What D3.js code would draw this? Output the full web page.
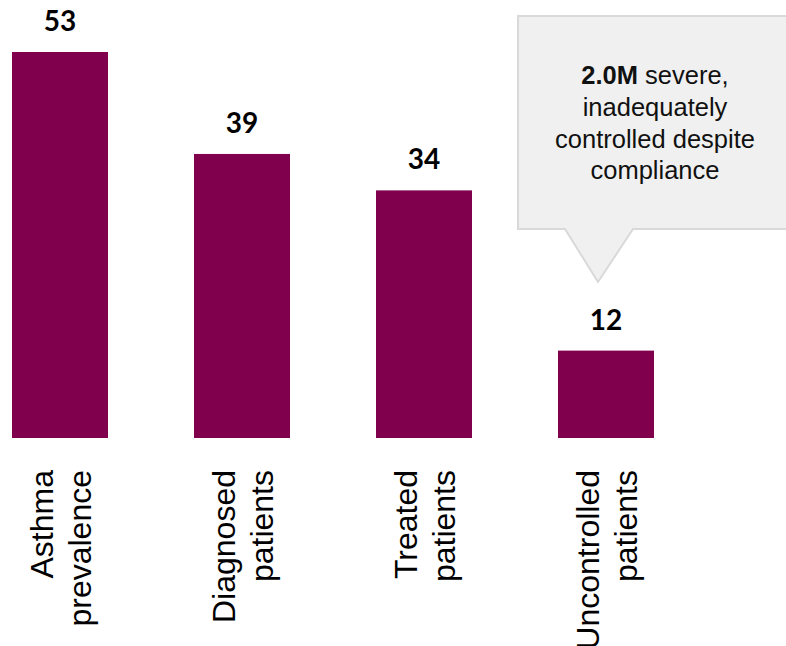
<!DOCTYPE html>
<html>
<head>
<meta charset="utf-8">
<script src="https://cdn.jsdelivr.net/npm/d3@7"></script>
<style>
  html, body { margin: 0; padding: 0; background: #fff; }
  svg { display: block; }
</style>
</head>
<body>
<svg id="chart" width="786" height="646"></svg>
<script>
const categories = [["Asthma", "prevalence"], ["Diagnosed", "patients"], ["Treated", "patients"], ["Uncontrolled", "patients"]];
const values = [53, 39, 34, 12];
const valueLabels = ["53", "39", "34", "12"];
const calloutBold = "2.0M";
const calloutLines = [" severe,", "inadequately", "controlled despite", "compliance"];

const svg = d3.select("#chart");
const W = 786, H = 646;
const barColor = "#80004d";

const x = d3.scaleBand()
  .domain(d3.range(values.length))
  .range([12, 654])
  .paddingInner(0.4725)
  .paddingOuter(0);

const y = d3.scaleLinear()
  .domain([0, d3.max(values)])
  .range([438, 52]);

// Bars
svg.append("g").selectAll("rect")
  .data(values)
  .join("rect")
  .attr("x", (d, i) => x(i))
  .attr("y", d => y(d))
  .attr("width", x.bandwidth())
  .attr("height", d => y(0) - y(d))
  .attr("fill", barColor);

// Value labels
svg.append("g").selectAll("text")
  .data(values)
  .join("text")
  .attr("x", (d, i) => x(i) + x.bandwidth() / 2)
  .attr("y", d => y(d) - 21)
  .attr("text-anchor", "middle")
  .attr("font-family", "Lato, 'Open Sans', sans-serif")
  .attr("font-weight", "bold")
  .attr("font-size", 28)
  .attr("fill", "#000")
  .text((d, i) => valueLabels[i]);

// Category labels (rotated)
const catG = svg.append("g").selectAll("g")
  .data(categories)
  .join("g")
  .attr("transform", (d, i) => `translate(${x(i) + x.bandwidth() / 2 - 7}, ${y(0) + 32}) rotate(-90)`);

catG.append("text")
  .attr("text-anchor", "end")
  .attr("font-family", "'Liberation Sans', Arial, sans-serif")
  .attr("font-size", 32)
  .attr("fill", "#000")
  .selectAll("tspan")
  .data(d => d)
  .join("tspan")
  .attr("x", 0)
  .attr("y", (d, j) => j * 38)
  .text(d => d);

// Callout
const calloutG = svg.append("g");
const bx0 = 518, bx1 = 794, by0 = 16, by1 = 229;
const px0 = 565, px1 = 633, ptx = 598, pty = 282;
const path = d3.path();
path.moveTo(bx0, by0);
path.lineTo(bx1, by0);
path.lineTo(bx1, by1);
path.lineTo(px1, by1);
path.lineTo(ptx, pty);
path.lineTo(px0, by1);
path.lineTo(bx0, by1);
path.closePath();
calloutG.append("path")
  .attr("d", path.toString())
  .attr("fill", "#f0f0f0")
  .attr("stroke", "#d9d9d9")
  .attr("stroke-width", 2);

const ct = calloutG.append("text")
  .attr("text-anchor", "middle")
  .attr("font-family", "'Liberation Sans', Arial, sans-serif")
  .attr("font-size", 25.5)
  .attr("fill", "#111");
const cx = 655;
const first = ct.append("tspan").attr("x", cx).attr("y", 84);
first.append("tspan").attr("font-weight", "bold").text(calloutBold);
first.append("tspan").text(calloutLines[0]);
calloutLines.slice(1).forEach((t, i) => {
  ct.append("tspan").attr("x", cx).attr("y", 84 + (i + 1) * 31.8).text(t);
});
</script>
</body>
</html>
